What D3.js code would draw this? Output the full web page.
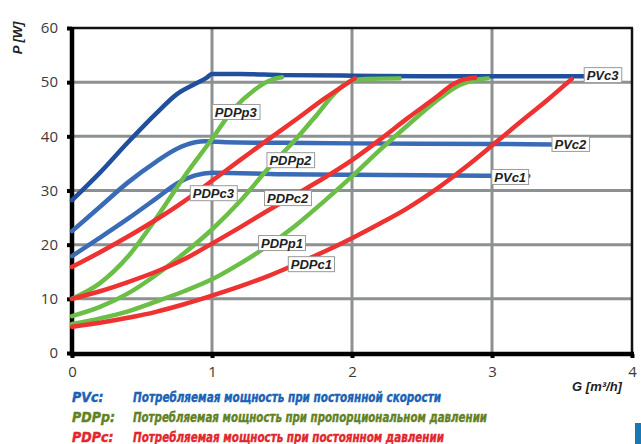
<!DOCTYPE html>
<html><head><meta charset="utf-8">
<script src="https://cdn.jsdelivr.net/npm/d3@7/dist/d3.min.js"></script>
<style>body{margin:0;background:#fff}svg{display:block}</style>
</head><body>
<svg id="c" width="641" height="444"></svg>
<script>
// ---- data ----
const xTicks = [0, 1, 2, 3, 4];
const yTicks = [0, 10, 20, 30, 40, 50, 60];

const pvc3 = [[0,28.2],[0.2,33.3],[0.4,38.9],[0.6,44.2],[0.75,47.8],[0.88,49.7],[0.96,50.8],[1.0,51.5],[1.2,51.5],[1.5,51.3],[2,51.2],[2.5,51.1],[3,51.1],[3.67,51.1]];
const pvc2 = [[0,22.5],[0.2,27.0],[0.4,31.5],[0.6,35.3],[0.75,37.7],[0.88,38.9],[0.95,39.1],[1.1,38.9],[1.5,38.8],[2,38.7],[3,38.6],[3.44,38.5]];
const pvc1 = [[0,17.9],[0.2,21.3],[0.4,24.8],[0.6,28.5],[0.75,31.3],[0.88,32.8],[1.0,33.3],[1.5,33.0],[2,32.9],[2.5,32.8],[3.26,32.7]];

const pdpp3 = [[0,10],[0.2,12.9],[0.4,17.8],[0.6,24.8],[0.8,32.5],[1.0,39.5],[1.15,44.9],[1.3,48.5],[1.42,50.4],[1.5,50.9]];
const pdpp2 = [[0,6.8],[0.2,8.5],[0.4,11.0],[0.6,14.4],[0.8,18.4],[1.0,22.8],[1.2,28.0],[1.4,34.0],[1.6,39.5],[1.75,44.0],[1.89,48.3],[2.0,50.3],[2.1,50.6],[2.34,50.7]];
const pdpp1 = [[0,5.35],[0.2,6.4],[0.4,7.7],[0.6,9.5],[0.8,11.4],[1.0,13.6],[1.2,16.5],[1.4,19.8],[1.6,23.6],[1.8,28.0],[2.0,32.6],[2.2,37.5],[2.4,42.1],[2.6,46.5],[2.77,49.5],[2.9,50.5],[2.97,50.7]];

const pdpc3 = [[0,15.9],[0.2,18.6],[0.4,21.5],[0.6,24.6],[0.8,28.0],[1.0,31.8],[1.2,35.6],[1.4,39.4],[1.6,43.1],[1.8,46.9],[2.02,50.7]];
const pdpc2 = [[0,10],[0.2,11.4],[0.4,13.1],[0.6,15.0],[0.8,17.3],[1.0,20.2],[1.2,23.2],[1.4,26.3],[1.6,29.3],[1.8,32.3],[2.0,35.6],[2.2,39.4],[2.4,43.4],[2.6,47.2],[2.72,49.6],[2.8,50.5],[2.88,50.8]];
const pdpc1 = [[0,4.86],[0.2,5.6],[0.4,6.5],[0.6,7.6],[0.8,9.0],[1.0,10.6],[1.2,12.3],[1.4,14.2],[1.6,16.4],[1.8,18.7],[2.0,21.2],[2.2,23.9],[2.4,26.8],[2.6,30.2],[2.8,34.1],[3.0,38.3],[3.2,42.6],[3.4,46.8],[3.57,50.6]];

const labelNames = ["PDPp3","PDPp2","PDPc3","PDPc2","PDPp1","PDPc1","PVc1","PVc2","PVc3"];
const labelG     = [1.17, 1.56, 1.01, 1.54, 1.50, 1.71, 3.13, 3.56, 3.79];
const labelP     = [44.5, 35.6, 29.5, 28.6, 20.3, 16.4, 32.5, 38.6, 51.3];

const legendKeys  = ["PVc:", "PDPp:", "PDPc:"];
const legendTexts = ["Потребляемая мощность при постоянной скорости",
                     "Потребляемая мощность при пропорциональном давлении",
                     "Потребляемая мощность при постоянном давлении"];

// ---- drawing ----
const svg = d3.select("#c");
const x = d3.scaleLinear([0, 4], [72, 632]);
const y = d3.scaleLinear([0, 60], [353, 28]);
const gridCol = "#8e9191";

// grid
svg.append("g").selectAll("line").data(xTicks.slice(1, -1)).join("line")
  .attr("x1", d => x(d)).attr("x2", d => x(d)).attr("y1", y(0)).attr("y2", y(60))
  .attr("stroke", gridCol).attr("stroke-width", 3);
svg.append("g").selectAll("line").data(yTicks.slice(1, -1)).join("line")
  .attr("y1", d => y(d)).attr("y2", d => y(d)).attr("x1", x(0)).attr("x2", x(4))
  .attr("stroke", gridCol).attr("stroke-width", 3);
// frame top/right
svg.append("line").attr("x1", x(0)).attr("x2", x(4) + 1).attr("y1", y(60)).attr("y2", y(60))
  .attr("stroke", "#111").attr("stroke-width", 2.5);
svg.append("line").attr("x1", x(4)).attr("x2", x(4)).attr("y1", y(60)).attr("y2", y(0))
  .attr("stroke", "#111").attr("stroke-width", 2.5);

// axes
const tickFont = "'Open Sans', sans-serif";
const ax = svg.append("g").attr("transform", `translate(0,${y(0) + 1})`)
  .call(d3.axisBottom(x).tickValues(xTicks).tickSize(4).tickSizeOuter(0).tickPadding(8).tickFormat(d3.format("d")));
const ay = svg.append("g").attr("transform", `translate(${x(0)},0)`)
  .call(d3.axisLeft(y).tickValues(yTicks).tickSize(5).tickSizeOuter(0).tickPadding(9).tickFormat(d3.format("d")));
[ax, ay].forEach(a => {
  a.select(".domain").attr("stroke", "#000").attr("stroke-width", 4.5);
  a.selectAll(".tick line").attr("stroke", "#000").attr("stroke-width", 4);
  a.selectAll(".tick text").attr("fill", "#3a3a3a").style("font-family", tickFont).style("font-size", "15px");
});
ax.select(".domain").attr("d", `M${x(0) - 2},0H${x(4) + 2}`);
ay.select(".domain").attr("d", `M0,${y(0) + 3}V${y(60) - 1}`);

// curves
const line = d3.line().x(d => x(d[0])).y(d => y(d[1])).curve(d3.curveMonotoneX);
const seriesList = [
  [pvc1, "#3a6bb7"], [pvc2, "#3a6bb7"], [pvc3, "#1f4f9d"],
  [pdpp3, "#6bbf47"], [pdpp2, "#6bbf47"], [pdpp1, "#6bbf47"],
  [pdpc3, "#ee3232"], [pdpc2, "#ee3232"], [pdpc1, "#ee3232"]
];
svg.append("g").selectAll("path").data(seriesList).join("path")
  .attr("d", d => line(d[0])).attr("fill", "none")
  .attr("stroke", d => d[1]).attr("stroke-width", 4.5).attr("stroke-linecap", "round").attr("stroke-linejoin", "round");

// curve labels
const lblFont = "'Liberation Sans', Arial, sans-serif";
labelNames.forEach((name, i) => {
  const g = svg.append("g").attr("transform", `translate(${x(labelG[i])},${y(labelP[i])})`);
  const t = g.append("text").text(name).attr("text-anchor", "middle").attr("dy", "0.36em")
    .style("font-family", lblFont).style("font-size", "13px").style("font-weight", "bold").style("font-style", "italic")
    .attr("fill", "#222");
  const bb = t.node().getBBox();
  g.insert("rect", "text").attr("x", bb.x - 2.5).attr("y", -7.5).attr("width", bb.width + 5).attr("height", 15)
    .attr("fill", "#fff").attr("stroke", "#9a9a9a").attr("stroke-width", 1);
});

// axis titles
svg.append("text").text("P [W]").attr("transform", `translate(22,38) rotate(-90)`).attr("text-anchor", "middle")
  .style("font-family", lblFont).style("font-size", "13px").style("font-weight", "bold").style("font-style", "italic").attr("fill", "#222");
svg.append("text").text("G [m³/h]").attr("x", 597).attr("y", 391).attr("text-anchor", "middle")
  .style("font-family", lblFont).style("font-size", "13px").style("font-weight", "bold").style("font-style", "italic").attr("fill", "#222");

// legend
const legCols = ["#1a62b4", "#62821f", "#e2262c"];
const legBase = [402, 422, 442];
const legEnd = [441, 487, 444];
const legFont = "'Liberation Sans Narrow', 'DejaVu Sans Condensed', sans-serif";
legendKeys.forEach((k, i) => {
  svg.append("text").text(k).attr("x", 72).attr("y", legBase[i]).attr("fill", legCols[i])
    .attr("stroke", legCols[i]).attr("stroke-width", 0.4)
    .style("font-family", legFont).style("font-size", "14px").style("font-weight", "bold").style("font-style", "italic");
  svg.append("text").text(legendTexts[i]).attr("x", 133).attr("y", legBase[i]).attr("fill", legCols[i])
    .attr("stroke", legCols[i]).attr("stroke-width", 0.4)
    .attr("textLength", legEnd[i] - 133).attr("lengthAdjust", "spacingAndGlyphs")
    .style("font-family", legFont).style("font-size", "14px").style("font-weight", "bold").style("font-style", "italic");
});

// blue tab
svg.append("rect").attr("x", 635).attr("y", 423).attr("width", 6).attr("height", 21).attr("fill", "#1a78b4");
</script>
</body></html>
